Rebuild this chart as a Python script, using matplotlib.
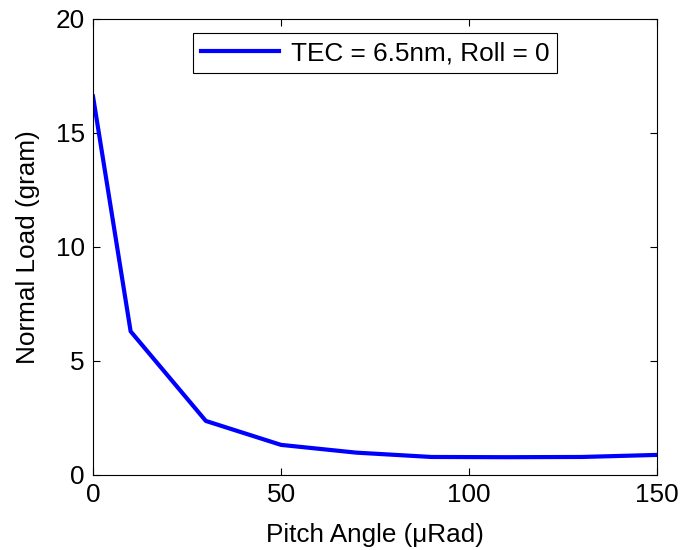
import matplotlib
matplotlib.use("Agg")
import matplotlib.pyplot as plt

plt.rcParams["font.family"] = ["Liberation Sans", "DejaVu Sans"]

# pitch angle (uRad) vs normal load (gram)
pitch = [0, 10, 30, 50, 70, 90, 110, 130, 150]
load = [16.6, 6.3, 2.37, 1.32, 0.98, 0.79, 0.78, 0.79, 0.88]
series_label = "TEC = 6.5nm, Roll = 0"

FS = 18.8

fig = plt.figure(figsize=(6.81, 5.5), dpi=100)
ax = fig.add_axes([0.1366, 0.1364, 0.8282, 0.8291])

ax.plot(pitch, load, color="#0000ff", lw=3, label=series_label)

ax.set_xlim(0, 150)
ax.set_ylim(0, 20)
ax.set_xticks([0, 50, 100, 150])
ax.set_yticks([0, 5, 10, 15, 20])
ax.tick_params(direction="in", top=True, right=True, labelsize=FS,
               length=5, width=0.8, pad=6)
for sp in ax.spines.values():
    sp.set_linewidth(0.8)

ax.set_xlabel("Pitch Angle (\u03bcRad)", fontsize=FS, labelpad=11)
ax.set_ylabel("Normal Load (gram)", fontsize=FS, labelpad=11)

leg = ax.legend(loc="upper center", fontsize=FS, fancybox=False,
                edgecolor="black", framealpha=1, handlelength=3.0,
                handletextpad=0.45, borderaxespad=0.55, borderpad=0.3)
leg.get_frame().set_linewidth(0.8)

fig.savefig("out.png", dpi=100)
